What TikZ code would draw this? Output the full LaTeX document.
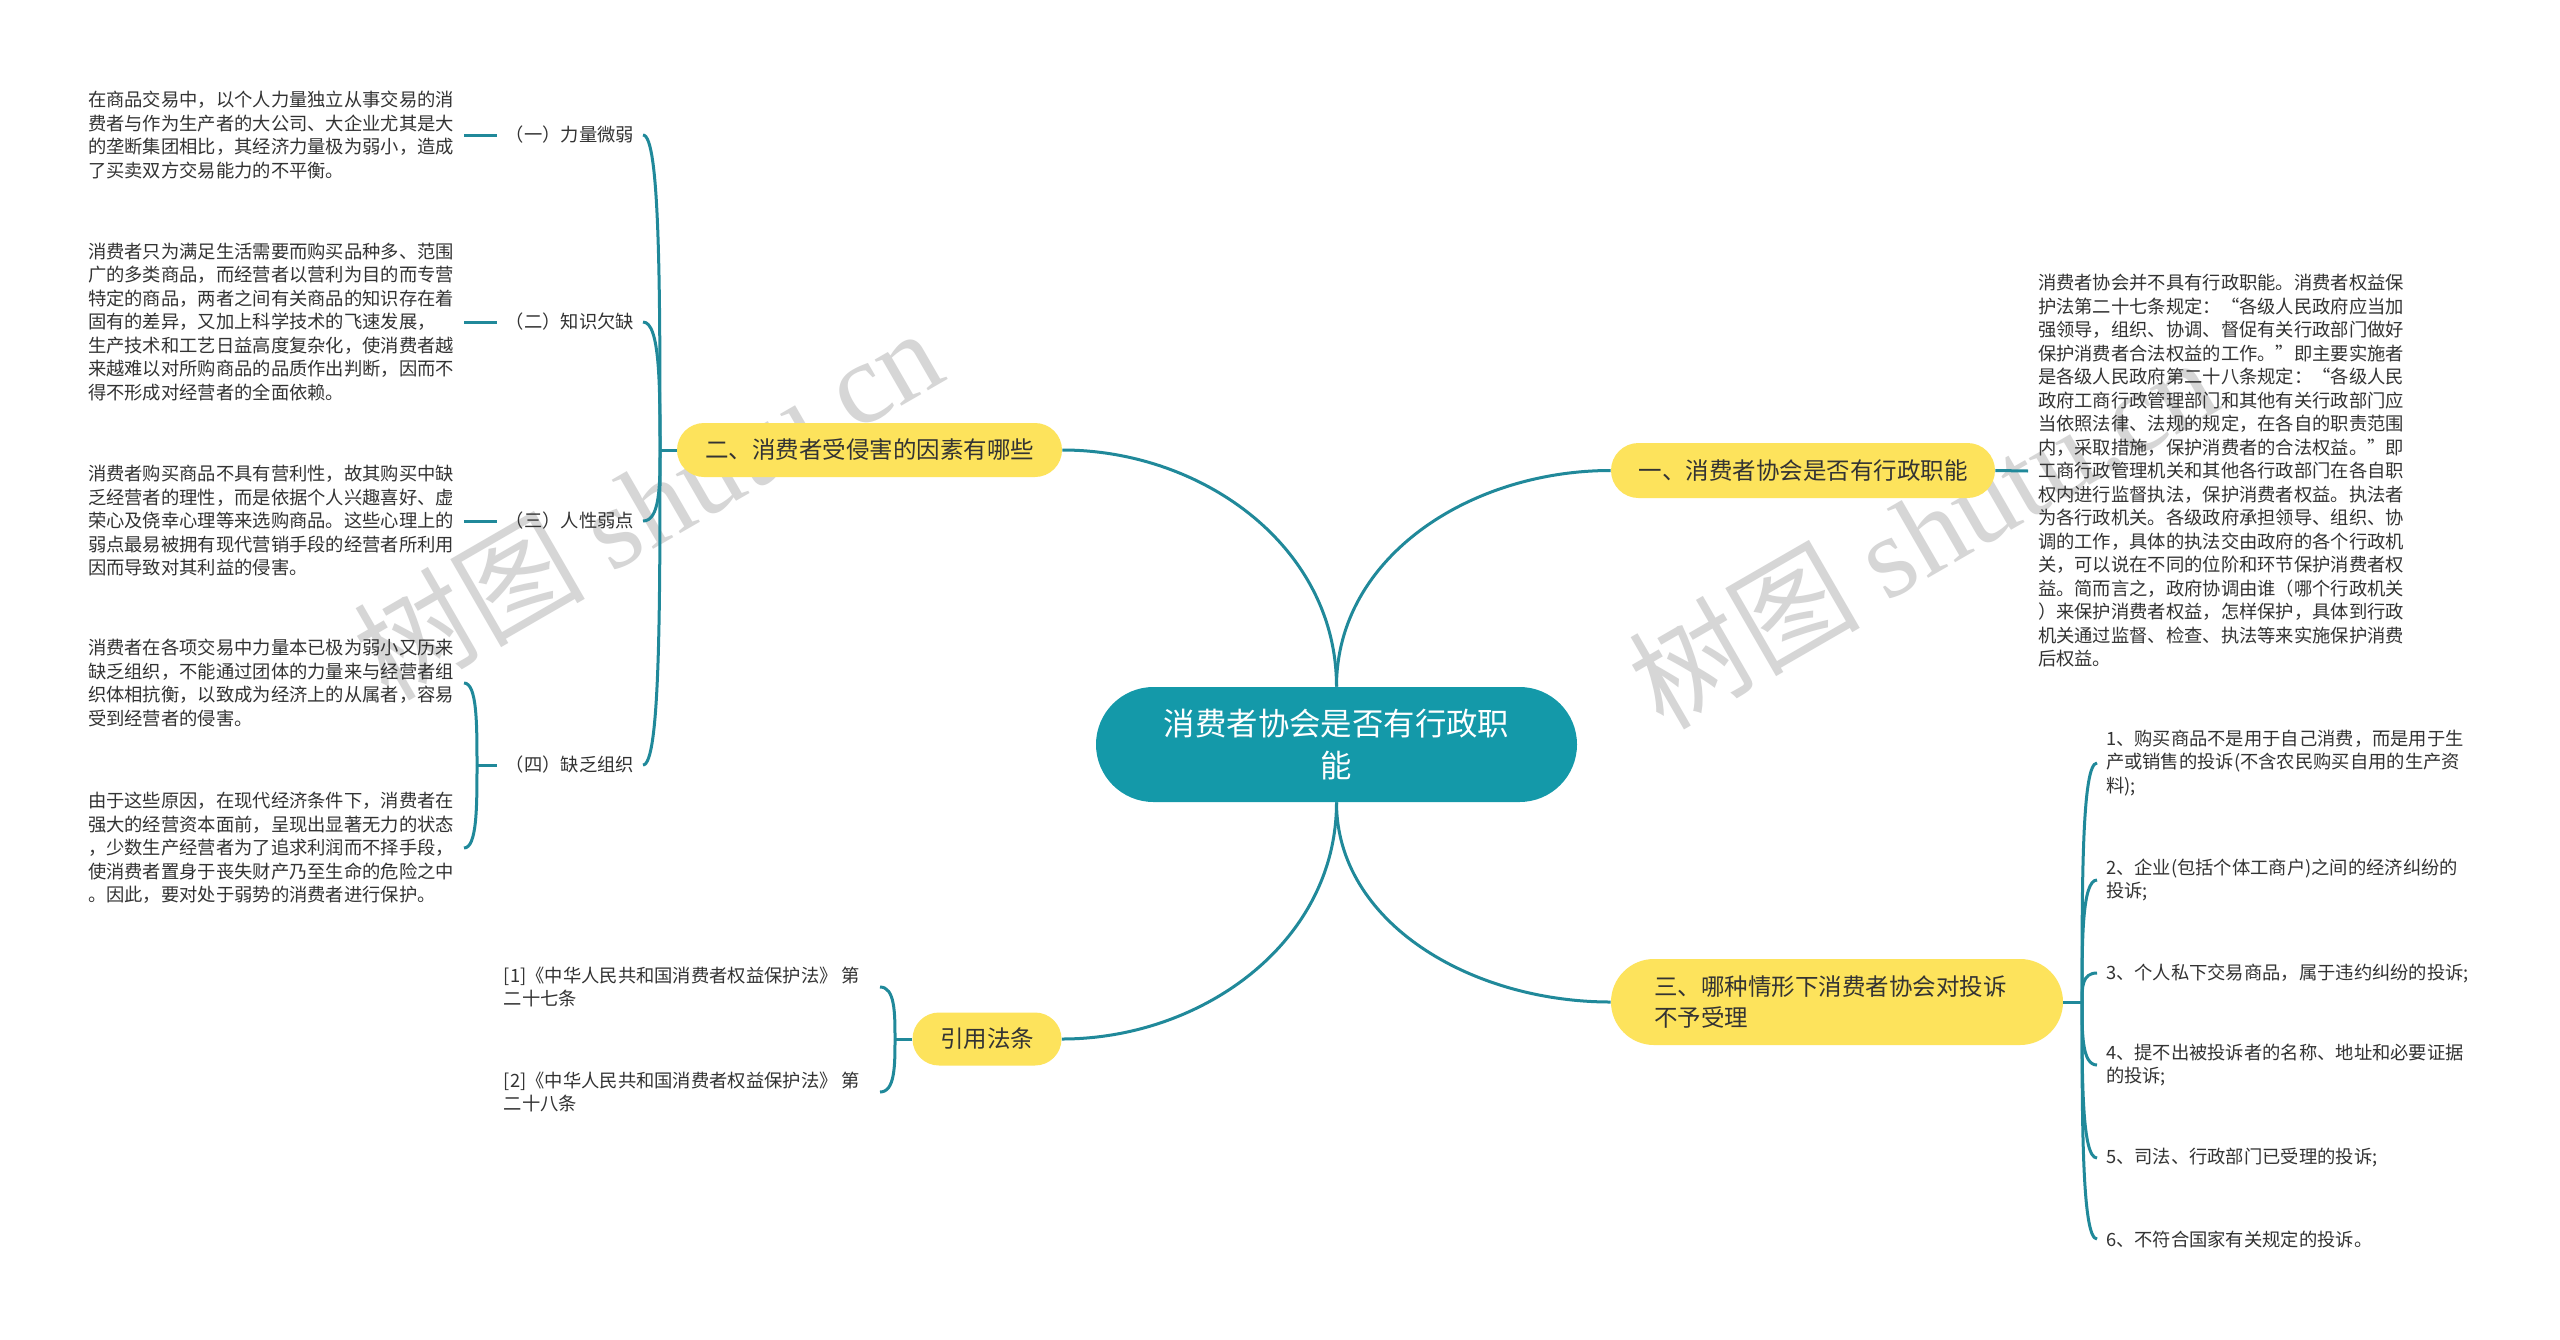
\documentclass[tikz,border=0pt]{standalone}
\usepackage{fontspec}
\setmainfont{Noto Sans CJK SC}
\newfontfamily\wmlat{Liberation Serif}
\usetikzlibrary{calc}
\definecolor{teal1}{HTML}{1499A9}
\definecolor{linec}{HTML}{20899A}
\definecolor{yel}{HTML}{FDE35C}
\definecolor{txt}{HTML}{333333}
\definecolor{wm}{HTML}{D6D6D6}
\newcommand\leaffont{\fontsize{9.15pt}{11.75pt}\selectfont}
\newcommand\brfont{\fontsize{11.75pt}{15.85pt}\selectfont}
\newcommand\cenfont{\fontsize{15.7pt}{21pt}\selectfont}
\newcommand\wmfont{\fontsize{58pt}{60pt}\selectfont}
\newcommand\brk[2]{\draw[conn] (#1) .. controls ($(#1)!0.5!(#1 |- #2)$) and (#1 |- #2) .. (#2);}
\begin{document}
\begin{tikzpicture}[x=0.5pt,y=-0.5pt,
  conn/.style={draw=linec,line width=1.5pt},
  leafL/.style={inner sep=0pt,outer xsep=5pt,align=left,text=txt,font=\leaffont,anchor=east},
  leafR/.style={inner sep=0pt,outer xsep=5pt,align=left,text=txt,font=\leaffont,anchor=west},
  lab/.style={inner sep=0pt,outer xsep=4.5pt,text=txt,font=\leaffont,anchor=east},
  pill/.style={fill=yel,inner sep=0pt,align=center,text=txt,font=\brfont},
  wmark/.style={text=wm,font=\wmfont,rotate=30,inner sep=0pt}]
\useasboundingbox (0,0) rectangle (2560,1339);
\fill[white] (0,0) rectangle (2560,1339);
\node[wmark] (w1) at (647,502) {树图 {\wmlat shutu.cn}};
\node[wmark] (w2) at (1922,531) {树图 {\wmlat shutu.cn}};

% central and branches
\node[fill=teal1,rounded corners=28.75pt,minimum width=240.5pt,minimum height=57.5pt,inner sep=0pt,align=center,text=white,font=\cenfont] (C) at (1336.5,744.5) {消费者协会是否有行政职\\能};
\node[pill,rounded corners=13.5pt,minimum width=192.5pt,minimum height=27pt] (B2) at (869.5,450) {二、消费者受侵害的因素有哪些};
\node[pill,rounded corners=13.75pt,minimum width=192pt,minimum height=27.5pt] (B1) at (1803,470.5) {一、消费者协会是否有行政职能};
\node[pill,rounded corners=21.5pt,minimum width=226pt,minimum height=43pt,text width=183pt,align=left] (B3) at (1837,1002) {三、哪种情形下消费者协会对投诉\\不予受理};
\node[pill,rounded corners=13.25pt,minimum width=74.5pt,minimum height=26.5pt] (B4) at (987,1039) {引用法条};

\draw[conn] (C.north) .. controls ($(C.north)+(0,-140)$) and ($(B2.east)+(140,0)$) .. (B2.east);
\draw[conn] (C.north) .. controls ($(C.north)+(0,-130)$) and ($(B1.west)+(-140,0)$) .. (B1.west);
\draw[conn] (C.south) .. controls ($(C.south)+(0,120)$) and ($(B3.west)+(-140,0)$) .. (B3.west);
\draw[conn] (C.south) .. controls ($(C.south)+(0,140)$) and ($(B4.east)+(140,0)$) .. (B4.east);

% left branch
\coordinate (J2) at (660,450);
\draw[conn] (B2.west) -- (J2);
\node[lab] (L1) at (643,135) {（一）力量微弱};
\node[lab] (L2) at (643,322) {（二）知识欠缺};
\node[lab] (L3) at (643,521) {（三）人性弱点};
\node[lab] (L4) at (643,765) {（四）缺乏组织};
\brk{J2}{L1.east}
\brk{J2}{L2.east}
\brk{J2}{L3.east}
\brk{J2}{L4.east}

\node[leafL] (T1) at (464,135) {在商品交易中，以个人力量独立从事交易的消\\费者与作为生产者的大公司、大企业尤其是大\\的垄断集团相比，其经济力量极为弱小，造成\\了买卖双方交易能力的不平衡。};
\node[leafL] (T2) at (464,322) {消费者只为满足生活需要而购买品种多、范围\\广的多类商品，而经营者以营利为目的而专营\\特定的商品，两者之间有关商品的知识存在着\\固有的差异，又加上科学技术的飞速发展，\\生产技术和工艺日益高度复杂化，使消费者越\\来越难以对所购商品的品质作出判断，因而不\\得不形成对经营者的全面依赖。};
\node[leafL] (T3) at (464,521) {消费者购买商品不具有营利性，故其购买中缺\\乏经营者的理性，而是依据个人兴趣喜好、虚\\荣心及侥幸心理等来选购商品。这些心理上的\\弱点最易被拥有现代营销手段的经营者所利用\\因而导致对其利益的侵害。};
\node[leafL] (T4a) at (464,683) {消费者在各项交易中力量本已极为弱小又历来\\缺乏组织，不能通过团体的力量来与经营者组\\织体相抗衡，以致成为经济上的从属者，容易\\受到经营者的侵害。};
\node[leafL] (T4b) at (464,848) {由于这些原因，在现代经济条件下，消费者在\\强大的经营资本面前，呈现出显著无力的状态\\，少数生产经营者为了追求利润而不择手段，\\使消费者置身于丧失财产乃至生命的危险之中\\。因此，要对处于弱势的消费者进行保护。};
\draw[conn] (T1.east) -- (L1.west);
\draw[conn] (T2.east) -- (L2.west);
\draw[conn] (T3.east) -- (L3.west);
\coordinate (J4) at (477,765);
\draw[conn] (L4.west) -- (J4);
\brk{J4}{T4a.east}
\brk{J4}{T4b.east}

% right top
\node[leafR] (R1) at (2028,471) {消费者协会并不具有行政职能。消费者权益保\\护法第二十七条规定：“各级人民政府应当加\\强领导，组织、协调、督促有关行政部门做好\\保护消费者合法权益的工作。”即主要实施者\\是各级人民政府第二十八条规定：“各级人民\\政府工商行政管理部门和其他有关行政部门应\\当依照法律、法规的规定，在各自的职责范围\\内，采取措施，保护消费者的合法权益。”即\\工商行政管理机关和其他各行政部门在各自职\\权内进行监督执法，保护消费者权益。执法者\\为各行政机关。各级政府承担领导、组织、协\\调的工作，具体的执法交由政府的各个行政机\\关，可以说在不同的位阶和环节保护消费者权\\益。简而言之，政府协调由谁（哪个行政机关\\）来保护消费者权益，怎样保护，具体到行政\\机关通过监督、检查、执法等来实施保护消费\\后权益。};
\draw[conn] (B1.east) -- (R1.west);

% right bottom
\coordinate (J3) at (2082,1002);
\draw[conn] (B3.east) -- (J3);
\node[leafR,outer xsep=4.5pt] (I1) at (2097,763) {1、购买商品不是用于自己消费，而是用于生\\产或销售的投诉(不含农民购买自用的生产资\\料);};
\node[leafR,outer xsep=4.5pt] (I2) at (2097,880) {2、企业(包括个体工商户)之间的经济纠纷的\\投诉;};
\node[leafR,outer xsep=4.5pt] (I3) at (2097,973) {3、个人私下交易商品，属于违约纠纷的投诉;};
\node[leafR,outer xsep=4.5pt] (I4) at (2097,1065) {4、提不出被投诉者的名称、地址和必要证据\\的投诉;};
\node[leafR,outer xsep=4.5pt] (I5) at (2097,1158) {5、司法、行政部门已受理的投诉;};
\node[leafR,outer xsep=4.5pt] (I6) at (2097,1239) {6、不符合国家有关规定的投诉。};
\brk{J3}{I1.west}
\brk{J3}{I2.west}
\brk{J3}{I3.west}
\brk{J3}{I4.west}
\brk{J3}{I5.west}
\brk{J3}{I6.west}

% citations
\coordinate (J5) at (895,1039);
\draw[conn] (B4.west) -- (J5);
\node[leafL,outer xsep=10pt] (K1) at (880,987) {[1]《中华人民共和国消费者权益保护法》 第\\二十七条};
\node[leafL,outer xsep=10pt] (K2) at (880,1092) {[2]《中华人民共和国消费者权益保护法》 第\\二十八条};
\brk{J5}{K1.east}
\brk{J5}{K2.east}
\end{tikzpicture}
\end{document}
